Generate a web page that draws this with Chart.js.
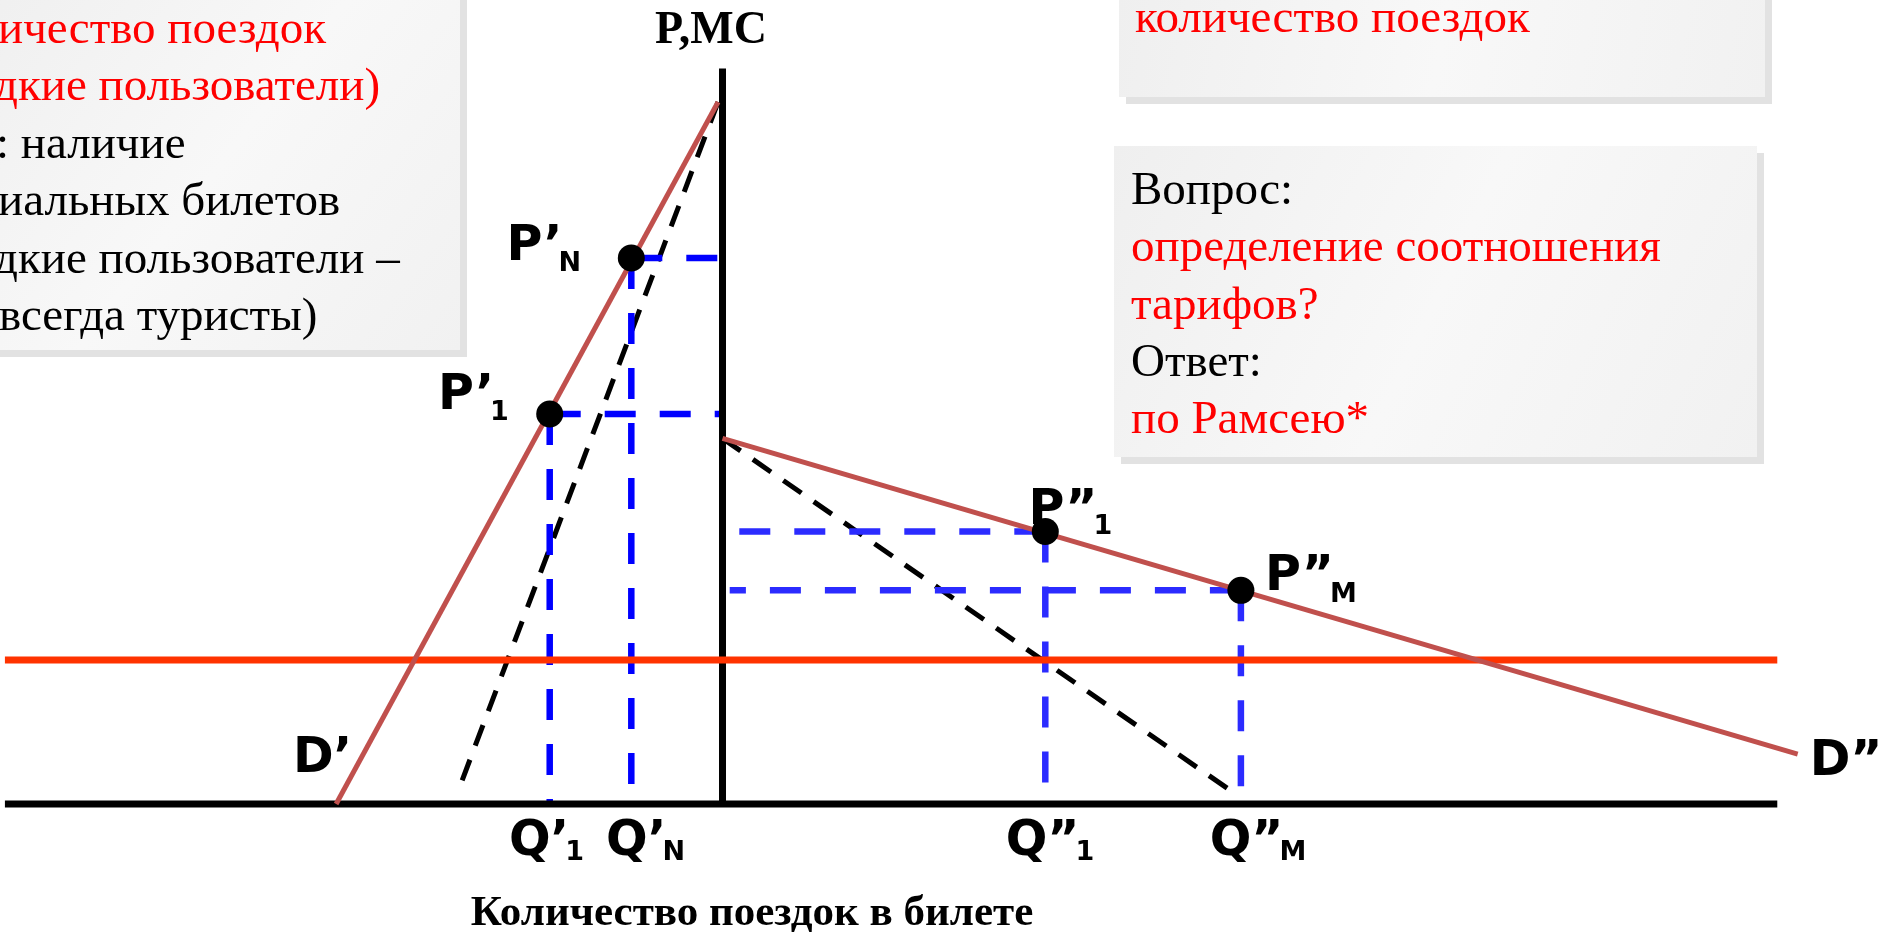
<!DOCTYPE html>
<html>
<head>
<meta charset="utf-8">
<script src="https://cdn.jsdelivr.net/npm/chart.js@4.4.1/dist/chart.umd.min.js"></script>
<style>
  html, body { margin: 0; padding: 0; background: #fff; overflow: hidden; }
</style>
</head>
<body>
<canvas id="grafico" width="1883" height="932"></canvas>
<script>
// Оси и кривые в условных единицах (Q — количество поездок, P — цена)
const osQ = [[-59.8, 0], [87.9, 0]];
const osP = [[0, 0], [0, 61.3]];
const mc = [[-59.8, 12.0], [87.9, 12.0]];
const sprosD1 = [[-32.2, 0], [-0.37, 58.5]];      // D'
const sprosD2 = [[0, 30.47], [89.6, 4.15]];       // D''
const dohodMR1 = [[-0.37, 58.5], [-22.08, 0.95]];
const dohodMR2 = [[0, 30.47], [42.87, 0.75]];

// Точки равновесия
const tochkiQ = [-7.6, -14.4, 26.9, 43.2];
const tochkiP = [45.5, 32.5, 22.7, 17.8];
const tochkiStart = [0, 0, 0.6, 0.6];   // откуда начинается горизонтальная пунктирная линия

// Подписи
const podpisi = [
  { t: "P’", s: "N", x: -18.0, y: 45.3, d: 11 },
  { t: "P’", s: "1", x: -23.7, y: 32.9, d: 11 },
  { t: "P”", s: "1", x: 25.5, y: 23.3, d: 10 },
  { t: "P”", s: "M", x: 45.2, y: 17.8, d: 12 },
  { t: "D’", s: "", x: -35.8, y: 2.7, d: 0 },
  { t: "D”", s: "", x: 90.6, y: 2.45, d: 0 },
  { t: "Q’", s: "1", x: -17.8, y: -4.25, d: 5 },
  { t: "Q’", s: "N", x: -9.7, y: -4.25, d: 5 },
  { t: "Q”", s: "1", x: 23.6, y: -4.25, d: 5 },
  { t: "Q”", s: "M", x: 40.6, y: -4.25, d: 5 }
];
const osPodpis = "P,MC";
const osQPodpis = "Количество поездок в билете";

const tekstLevyi = [
  { t: "ичество поездок", c: "#ff0000", x: -2 },
  { t: "дкие пользователи)", c: "#ff0000", x: -6 },
  { t: ": наличие", c: "#000000", x: -4 },
  { t: "иальных билетов", c: "#000000", x: -2 },
  { t: "дкие пользователи –", c: "#000000", x: -6 },
  { t: "всегда туристы)", c: "#000000", x: -1 }
];
const tekstVerh = [{ t: "количество поездок", c: "#ff0000" }];
const tekstVopros = [
  { t: "Вопрос:", c: "#000000" },
  { t: "определение соотношения", c: "#ff0000" },
  { t: "тарифов?", c: "#ff0000" },
  { t: "Ответ:", c: "#000000" },
  { t: "по Рамсею*", c: "#ff0000" }
];

const toXY = arr => arr.map(p => ({ x: p[0], y: p[1] }));

function linia(data, color, width, dash) {
  return {
    data: toXY(data),
    showLine: true,
    borderColor: color,
    borderWidth: width,
    borderDash: dash || [],
    pointRadius: 0,
    pointHoverRadius: 0,
    fill: false,
    borderCapStyle: "butt"
  };
}

// Синие пунктирные проекции точек на оси
const sinie = [];
tochkiQ.forEach((q, i) => {
  const cvet = i < 2 ? "#0000ff" : "#2b2bff";
  sinie.push(linia([[q, tochkiP[i]], [tochkiStart[i], tochkiP[i]]], cvet, 6.5, [31, 24]));
  sinie.push(linia([[q, tochkiP[i]], [q, 0]], cvet, 6.5, [31, 24]));
});

function korobka(ctx, x, y, w, h) {
  ctx.save();
  ctx.fillStyle = "#e2e2e2";
  ctx.fillRect(x + 7, y + 7, w, h);
  const g = ctx.createLinearGradient(x, y, x + w, y + h);
  g.addColorStop(0, "#efefef");
  g.addColorStop(0.5, "#f8f8f8");
  g.addColorStop(1, "#f1f1f1");
  ctx.fillStyle = g;
  ctx.fillRect(x, y, w, h);
  ctx.restore();
}

function stroki(ctx, list, x0, y0, step, size) {
  ctx.save();
  ctx.font = size + "px 'Liberation Serif', 'Times New Roman', serif";
  ctx.textBaseline = "alphabetic";
  ctx.textAlign = "left";
  list.forEach((s, i) => {
    ctx.fillStyle = s.c;
    ctx.fillText(s.t, x0 + (s.x || 0), y0 + i * step);
  });
  ctx.restore();
}

const fonPlugin = {
  id: "fon",
  beforeDatasetsDraw(chart) {
    const ctx = chart.ctx;
    korobka(ctx, -20, -20, 480, 370);
    korobka(ctx, 1119, -20, 646, 117);
    korobka(ctx, 1114, 146, 643, 311);
    stroki(ctx, tekstLevyi, 0, 43, 57.4, 47);
    stroki(ctx, tekstVerh, 1135, 32, 57.4, 47);
    stroki(ctx, tekstVopros, 1131, 204, 57.3, 47);
  }
};

const podpisiPlugin = {
  id: "podpisi",
  afterDatasetsDraw(chart) {
    const ctx = chart.ctx;
    const sx = chart.scales.x, sy = chart.scales.y;
    ctx.save();
    ctx.fillStyle = "#000";
    ctx.textBaseline = "alphabetic";
    ctx.textAlign = "left";
    podpisi.forEach(p => {
      const px = sx.getPixelForValue(p.x), py = sy.getPixelForValue(p.y);
      ctx.font = "bold 49px 'DejaVu Sans', Verdana, sans-serif";
      ctx.fillText(p.t, px, py);
      const w = ctx.measureText(p.t).width;
      if (p.s) {
        ctx.font = "bold 27px 'DejaVu Sans', Verdana, sans-serif";
        ctx.fillText(p.s, px + w - 4, py + p.d);
      }
    });
    ctx.textAlign = "center";
    ctx.font = "bold 46px 'Liberation Serif', 'Times New Roman', serif";
    ctx.fillText(osPodpis, sx.getPixelForValue(-0.96), sy.getPixelForValue(63.4));
    ctx.font = "bold 43px 'Liberation Serif', 'Times New Roman', serif";
    ctx.fillText(osQPodpis, sx.getPixelForValue(2.46), sy.getPixelForValue(-10.1));
    ctx.restore();
  }
};

const ctx = document.getElementById("grafico").getContext("2d");
new Chart(ctx, {
  type: "scatter",
  data: {
    datasets: [
      {
        data: tochkiQ.map((q, i) => ({ x: q, y: tochkiP[i] })),
        pointRadius: 13.5,
        pointHoverRadius: 13.5,
        pointBackgroundColor: "#000",
        pointBorderWidth: 0,
        showLine: false
      },
      linia(sprosD2, "#c0504d", 5),
      linia(sprosD1, "#c0504d", 5),
      linia(mc, "#ff3300", 7),
      linia(osQ, "#000000", 7),
      linia(osP, "#000000", 7),
      ...sinie,
      linia(dohodMR1, "#000000", 5, [22, 15]),
      linia(dohodMR2, "#000000", 5, [22, 15])
    ]
  },
  options: {
    responsive: false,
    animation: false,
    devicePixelRatio: 1,
    layout: { padding: 0, autoPadding: false },
    events: [],
    plugins: { legend: { display: false }, tooltip: { enabled: false } },
    scales: {
      x: { type: "linear", min: -60.21, max: 96.71, display: false },
      y: { type: "linear", min: -10.67, max: 67.0, display: false }
    }
  },
  plugins: [fonPlugin, podpisiPlugin]
});
</script>
</body>
</html>
